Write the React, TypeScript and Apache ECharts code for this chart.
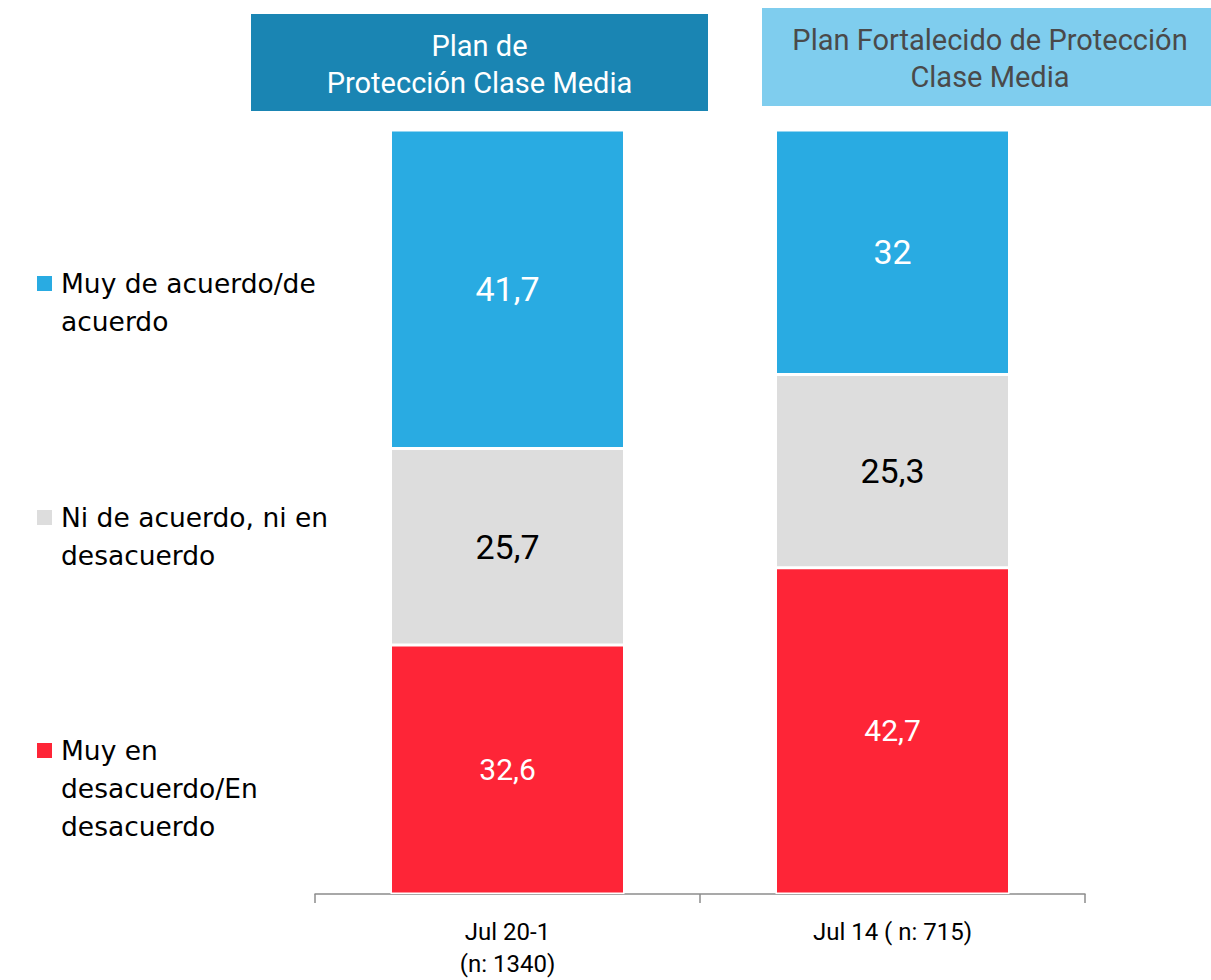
import React, { useEffect, useRef } from "react";
import * as echarts from "echarts";

const categories = ["Jul 20-1\n(n: 1340)", "Jul 14 ( n: 715)"];
const seriesNames = [
  "Muy en\ndesacuerdo/En\ndesacuerdo",
  "Ni de acuerdo, ni en\ndesacuerdo",
  "Muy de acuerdo/de\nacuerdo",
];
const desacuerdoValues = [32.6, 42.7];
const neutralValues = [25.7, 25.3];
const acuerdoValues = [41.7, 32];
const panelTitles = [
  "Plan de\nProtección Clase Media",
  "Plan Fortalecido de Protección\nClase Media",
];

const COLORS = ["#fe2537", "#dddddd", "#29abe2"];
const LABEL_COLORS = ["#ffffff", "#000000", "#ffffff"];
const LABEL_SIZES = [30, 34, 34];
const LEGEND_TOPS = [731, 498, 264];

const fmt = (p: any) => String(p.value).replace(".", ",");

export default function App() {
  const ref = useRef<HTMLDivElement>(null);
  useEffect(() => {
    if (!ref.current) return;
    const chart = echarts.init(ref.current, null, { renderer: "svg" });
    const values = [desacuerdoValues, neutralValues, acuerdoValues];
    const series = values.map((data, i) => ({
      name: seriesNames[i],
      type: "bar",
      stack: "total",
      data,
      barWidth: 234,
      itemStyle: { color: COLORS[i], borderColor: "#ffffff", borderWidth: 1.5 },
      label: {
        show: true,
        position: "inside",
        formatter: fmt,
        color: LABEL_COLORS[i],
        fontSize: LABEL_SIZES[i],
        fontFamily: "Roboto, sans-serif",
      },
    }));

    const legendGraphics: any[] = [];
    seriesNames.forEach((name, i) => {
      legendGraphics.push({
        type: "rect",
        shape: { x: 37, y: LEGEND_TOPS[i] + 12, width: 15, height: 15 },
        style: { fill: COLORS[i] },
      });
      legendGraphics.push({
        type: "text",
        x: 61,
        y: LEGEND_TOPS[i],
        style: {
          text: name,
          fill: "#000000",
          fontSize: 26.5,
          lineHeight: 38,
          fontFamily: "'DejaVu Sans', sans-serif",
          verticalAlign: "top",
        },
      });
    });

    const titleGraphics = [
      {
        type: "rect",
        shape: { x: 251, y: 14, width: 457, height: 97 },
        style: { fill: "#1a85b3" },
      },
      {
        type: "text",
        x: 479.5,
        y: 64,
        style: {
          text: panelTitles[0],
          fill: "#ffffff",
          fontSize: 29,
          lineHeight: 37,
          fontFamily: "Roboto, sans-serif",
          align: "center",
          verticalAlign: "middle",
        },
      },
      {
        type: "rect",
        shape: { x: 762, y: 8, width: 449, height: 98 },
        style: { fill: "#7fcdee" },
      },
      {
        type: "text",
        x: 990,
        y: 58.5,
        style: {
          text: panelTitles[1],
          fill: "#4a4a4a",
          fontSize: 29,
          lineHeight: 37,
          fontFamily: "Roboto, sans-serif",
          align: "center",
          verticalAlign: "middle",
        },
      },
    ];

    chart.setOption({
      animation: false,
      grid: { left: 315, right: 126, top: 130, bottom: 85, containLabel: false },
      xAxis: {
        type: "category",
        data: categories,
        axisLine: { show: true, lineStyle: { color: "#8c8c8c", width: 1.5 } },
        axisTick: { show: true, alignWithLabel: false, length: 9, lineStyle: { color: "#8c8c8c", width: 1.5 } },
        axisLabel: {
          color: "#000000",
          fontSize: 24,
          lineHeight: 32,
          margin: 22,
          fontFamily: "Roboto, sans-serif",
        },
      },
      yAxis: { type: "value", min: 0, max: 100, show: false, splitLine: { show: false } },
      series,
      graphic: [...titleGraphics, ...legendGraphics],
    });
    return () => chart.dispose();
  }, []);
  return (
    <div
      ref={ref}
      style={{ position: "absolute", left: 0, top: 0, width: 1211, height: 980, background: "#ffffff" }}
    />
  );
}
